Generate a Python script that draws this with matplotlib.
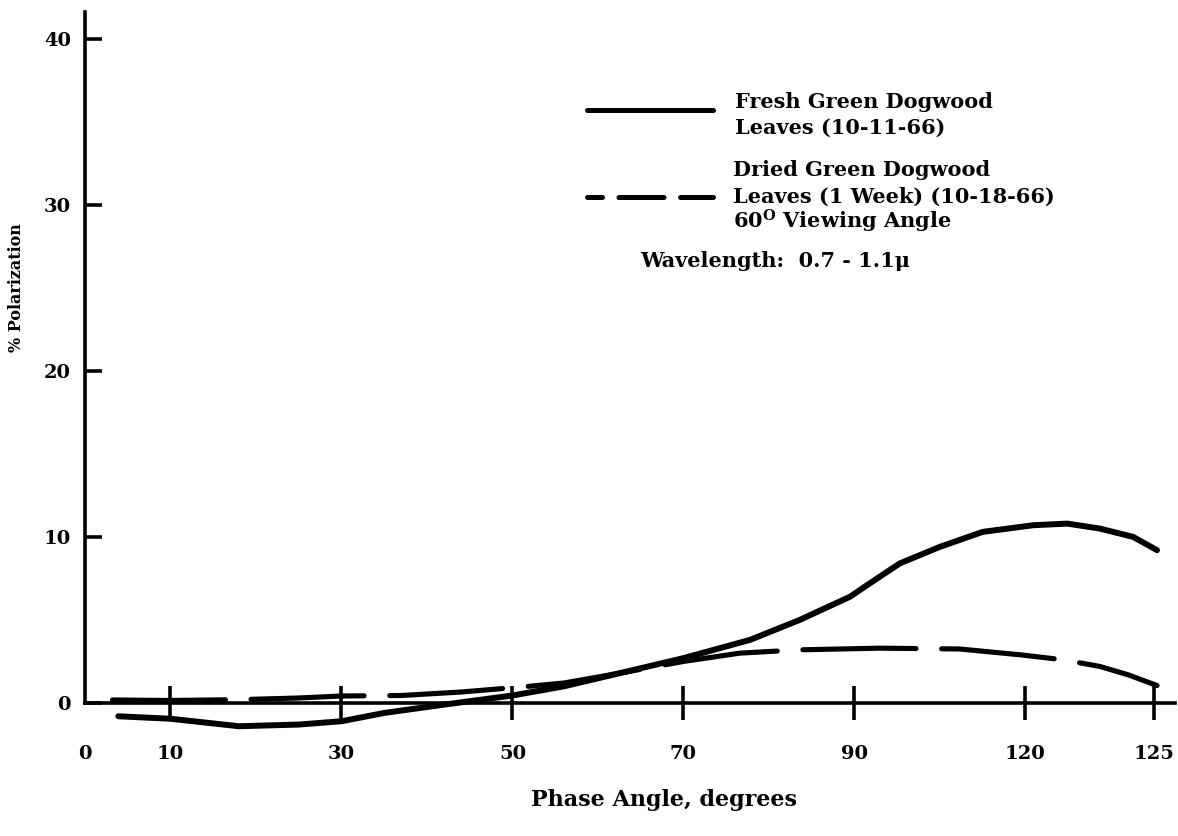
import matplotlib
matplotlib.use("Agg")
import matplotlib.pyplot as plt
from matplotlib.lines import Line2D

plt.rcParams['font.family'] = 'DejaVu Serif'
plt.rcParams['font.weight'] = 'bold'
plt.rcParams['mathtext.fontset'] = 'dejavuserif'

# values
fresh_angle = [3.9, 10, 18, 25, 30, 35, 42, 50, 56, 62.6, 70, 77.8, 83.6,
               89.5, 91.5, 95.3, 100, 105, 110.9, 114.9, 118.7, 122.6, 125.4]
fresh_pol = [-0.8, -0.95, -1.4, -1.3, -1.1, -0.6, -0.1, 0.45, 1.0, 1.8, 2.7,
             3.8, 5.0, 6.4, 7.1, 8.4, 9.4, 10.3, 10.7, 10.8, 10.5, 10.0, 9.2]

dried_angle = [3.2, 10, 18, 25, 30, 37, 44, 51, 56, 62.6, 70, 76.6, 83.6,
               93, 102.3, 109.4, 114.4, 118.7, 122, 125.4]
dried_pol = [0.18, 0.15, 0.2, 0.3, 0.42, 0.45, 0.66, 0.96, 1.2, 1.8, 2.5,
             3.0, 3.2, 3.3, 3.25, 2.9, 2.6, 2.2, 1.7, 1.05]

x_ticks = [0, 10, 30, 50, 70, 90, 110, 125]
x_labels = ['0', '10', '30', '50', '70', '90', '120', '125']
y_ticks = [0, 10, 20, 30, 40]

W, H = 1178, 836


def px(x, y):
    # pixel position on the page -> figure fraction
    return x / W, 1 - y / H


fig = plt.figure(figsize=(W / 100, H / 100), dpi=100)
ax = fig.add_axes([85 / W, 1 - 744.5 / H, 1090 / W, 732.5 / H])

ax.plot(fresh_angle, fresh_pol, color='black', lw=4.3,
        solid_capstyle='round', solid_joinstyle='round')
ax.plot(dried_angle, dried_pol, color='black', lw=3.7,
        linestyle=(0, (22, 5)), dash_capstyle='round')

ax.set_xlim(0, 127.5)
ax.set_ylim(-2.5, 41.6)

for side in ['top', 'right']:
    ax.spines[side].set_visible(False)
ax.spines['bottom'].set_position(('data', 0))
ax.spines['left'].set_bounds(0, 41.6)
for side in ['bottom', 'left']:
    ax.spines[side].set_linewidth(2.6)

ax.set_xticks(x_ticks)
ax.set_xticklabels(x_labels)
ax.set_yticks(y_ticks)
ax.tick_params(axis='x', direction='inout', length=24, width=2.6,
               pad=18, labelsize=14)
ax.tick_params(axis='y', direction='in', length=12, width=2.6,
               pad=10, labelsize=14)
ax.xaxis.get_major_ticks()[0].tick1line.set_visible(False)

ax.set_xlabel('Phase Angle, degrees', fontsize=16, fontweight='bold')
ax.xaxis.set_label_coords((664 - 85) / 1090, (744.5 - 789) / 732.5)
ax.set_ylabel('% Polarization', fontsize=11.5, fontweight='bold')
ax.yaxis.set_label_coords((25 - 85) / 1090, (25 + 2.5) / 44.1)

# legend drawn by hand, as in the original
fig.add_artist(Line2D([587 / W, 713 / W], [1 - 110 / H, 1 - 110 / H],
                      color='black', lw=3.6, solid_capstyle='round'))
fig.add_artist(Line2D([587 / W, 713 / W], [1 - 197 / H, 1 - 197 / H],
                      color='black', lw=3.6, linestyle=(6, (9, 3.3)),
                      dash_capstyle='round'))

legend_lines = [
    (735, 102, 'Fresh Green Dogwood'),
    (735, 128, 'Leaves (10-11-66)'),
    (733, 170, 'Dried Green Dogwood'),
    (733, 197, 'Leaves (1 Week) (10-18-66)'),
    (733, 221, r'60$^{\mathbf{O}}$ Viewing Angle'),
    (640, 261, 'Wavelength:  0.7 - 1.1\u03bc'),
]
for x, y, s in legend_lines:
    fx, fy = px(x, y)
    fig.text(fx, fy, s, ha='left', va='center', fontsize=15,
             fontweight='bold')

fig.savefig('out.png', dpi=100)
plt.close(fig)
